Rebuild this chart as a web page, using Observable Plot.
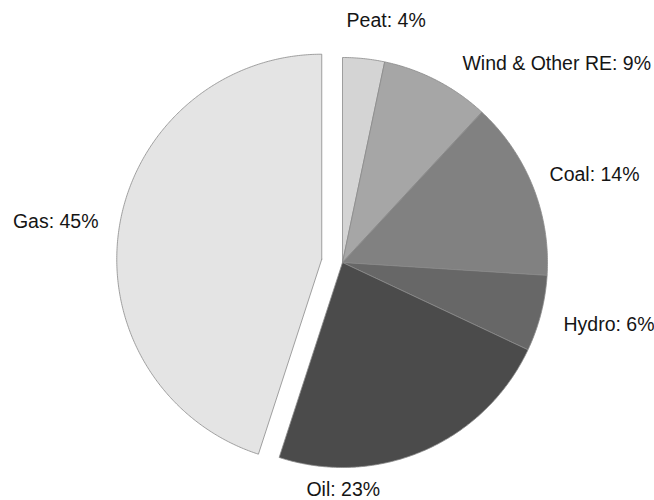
<!DOCTYPE html>
<html><head><meta charset="utf-8">
<script src="https://cdn.jsdelivr.net/npm/d3@7"></script>
<script src="https://cdn.jsdelivr.net/npm/@observablehq/plot@0.6"></script>
<style>html,body{margin:0;padding:0;background:#fff}</style>
</head><body><div id="chart"></div>
<script>
// ---- data ----
const sources = ["Peat", "Wind & Other RE", "Coal", "Hydro", "Oil", "Gas"];
const shares = [3.3, 8.6, 14.1, 6.0, 23.0, 45.0];      // angular share of the pie (%)
const labelPct = [4, 9, 14, 6, 23, 45];                 // printed percentages
const explodedSource = "Gas";

// ---- styles / layout ----
const fills = ["#d4d4d4", "#a6a6a6", "#818181", "#676767", "#4b4b4b", "#e4e4e4"];
const W = 654, H = 500, cx = 342, cy = 262, R = 205;   // pixel layout of the pie
const explode = 21 / R;                                 // explode distance in radii
// label anchors, in pie radii relative to the centre (x right, y up)
const labelX = [0.020, 0.585, 1.010, 1.078, -0.176, -1.190];
const labelY = [1.180, 0.971, 0.429, -0.302, -1.107, 0.200];
const labelAnchor = ["start", "start", "start", "start", "start", "end"];

// ---- build slice outlines from the shares ----
const total = d3.sum(shares);
const pts = [];
let acc = 0;
sources.forEach((s, i) => {
  const a0 = acc / total * 2 * Math.PI;
  acc += shares[i];
  const a1 = acc / total * 2 * Math.PI;
  const mid = (a0 + a1) / 2;
  const off = s === explodedSource ? explode : 0;
  const ox = off * Math.sin(mid), oy = off * Math.cos(mid);
  pts.push({source: s, x: ox, y: oy});
  const n = Math.max(4, Math.ceil((a1 - a0) / (Math.PI / 360)));
  for (let k = 0; k <= n; k++) {
    const a = a0 + (a1 - a0) * k / n;
    pts.push({source: s, x: ox + Math.sin(a), y: oy + Math.cos(a)});
  }
  pts.push({source: s, x: ox, y: oy});
});

const labels = sources.map((s, i) => ({
  text: `${s}: ${labelPct[i]}%`, x: labelX[i], y: labelY[i], anchor: labelAnchor[i]
}));

const chart = Plot.plot({
  width: W, height: H,
  margin: 0,
  x: {domain: [-cx / R, (W - cx) / R], range: [0, W], axis: null},
  y: {domain: [-(H - cy) / R, cy / R], range: [H, 0], axis: null},
  color: {domain: sources, range: fills},
  style: {background: "#fff", fontFamily: "'Liberation Sans', Arial, sans-serif"},
  marks: [
    Plot.line(pts, {x: "x", y: "y", z: "source", fill: "source",
      stroke: "#8a8a8a", strokeWidth: 0.8, curve: "linear"}),
    Plot.text(labels.filter(d => d.anchor === "start"), {x: "x", y: "y", text: "text",
      textAnchor: "start", fontSize: 19.5, fill: "#151515"}),
    Plot.text(labels.filter(d => d.anchor === "end"), {x: "x", y: "y", text: "text",
      textAnchor: "end", fontSize: 19.5, fill: "#151515"})
  ]
});
document.getElementById("chart").appendChild(chart);
</script>
</body></html>
